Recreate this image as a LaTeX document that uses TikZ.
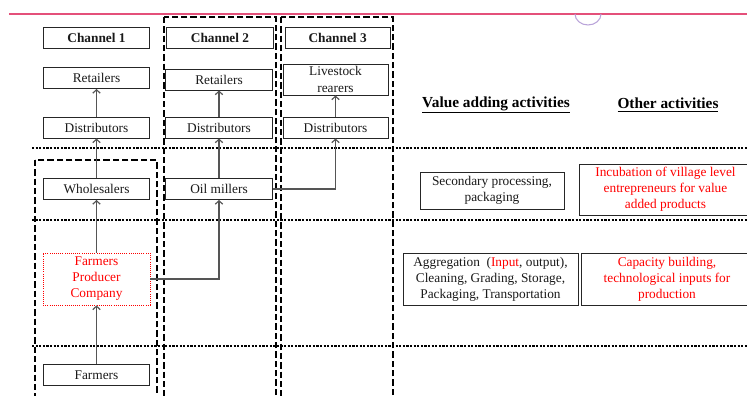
\documentclass[tikz,border=0pt]{standalone}
\usepackage{fontspec}
\setmainfont{Liberation Serif}
\usepackage{tikz}
\usetikzlibrary{arrows.meta, positioning}
\definecolor{rulepink}{HTML}{E4507A}
\definecolor{knoblilac}{HTML}{B9A3D9}
\definecolor{arrowgrey}{HTML}{555555}
\definecolor{darkgrey}{HTML}{1A1A1A}

\begin{document}
\begin{tikzpicture}[
        x=0.75pt, y=-0.75pt,
        block/.style={rectangle, draw=black!85, line width=0.6pt, fill=white, text=darkgrey, minimum width=80pt, minimum height=15.75pt, inner sep=1pt, align=center},
        redblock/.style={block, draw=red, densely dotted, line width=0.5pt, text=red},
        line/.style={draw, line width=0.9pt, color=arrowgrey, ->, >={Straight Barb[length=2.6pt, width=5.5pt]}},
        sep/.style={line width=1.6pt, dash pattern=on 1.6pt off 1.1pt},
        lane/.style={line width=1.4pt, dash pattern=on 4.8pt off 2.2pt},
        heading/.style={font=\fontsize{11.5}{14}\selectfont\bfseries}
    ]
        \clip (0,0) rectangle (747,396);

        % Page rule at the top
        \draw[rulepink, line width=0.8pt] (9,14) -- (747,14);
        \draw[knoblilac, line width=0.8pt] (575,14) arc[start angle=180, end angle=0, x radius=13, y radius=11];

        % Channel lanes and level separators
        \draw[lane] (164,17) rectangle (276,402);
        \draw[lane] (281,17) rectangle (393,402);
        \draw[lane] (35,160) rectangle (157,402);
        \foreach \yy in {148,220,346}
            \draw[sep] (32,\yy) -- (752,\yy);

        % Channel headers
        \node[block, font=\bfseries] (ch1) at (96.5,37.5) {Channel 1};
        \node[block, font=\bfseries, right=12pt of ch1] (ch2) {Channel 2};
        \node[block, font=\bfseries, right=8.25pt of ch2, minimum width=78.75pt] (ch3) {Channel 3};

        % Channel 1
        \node[block] (ret1) at (96.5,78) {Retailers};
        \node[block] (dist1) at (96.5,127.5) {Distributors};
        \node[block] (whole) at (96.5,189) {Wholesalers};
        \node[redblock, minimum height=39pt] (fpc) at (96.5,279) {Farmers\\Producer\\Company};
        \node[block] (farm) at (96.5,375) {Farmers};

        % Channel 2
        \node[block] (ret2) at (219,79.5) {Retailers};
        \node[block] (dist2) at (219,127.5) {Distributors};
        \node[block] (oil) at (219,189) {Oil millers};

        % Channel 3
        \node[block, minimum width=78.75pt, minimum height=23.25pt] (stock) at (335.5,79.5) {Livestock\\[1pt]rearers};
        \node[block, minimum width=78.75pt] (dist3) at (335.5,127.5) {Distributors};

        % Activities
        \node[heading] (vadd) at (496,105) {\underline{Value adding activities}};
        \node[heading] (other) at (668,105) {\underline{Other activities}};
        \node[block, minimum width=108pt, minimum height=27.75pt] (second) at (492,190.5) {Secondary processing,\\packaging};
        \node[block, text=red, minimum width=129.75pt, minimum height=38.25pt] (incub) at (665.5,189.5) {Incubation of village level\\entrepreneurs for value\\added products};
        \node[block, minimum width=131.25pt, minimum height=39pt] (aggr) at (490.5,279) {Aggregation~~(\textcolor{red}{Input}, output),\\Cleaning, Grading, Storage,\\Packaging, Transportation};
        \node[block, text=red, minimum width=129pt, minimum height=39pt] (capac) at (667,279) {Capacity building,\\technological inputs for\\production};

        % Connections
        \draw[line] (farm) -- (fpc);
        \draw[line] (fpc) -- (whole);
        \draw[line] (whole) -- (dist1);
        \draw[line] (dist1) -- (ret1);
        \draw[line] (fpc.east) -| (oil.south);
        \draw[line] (oil) -- (dist2);
        \draw[line] (dist2) -- (ret2);
        \draw[line] (oil.east) -| (dist3.south);
        \draw[line] (dist3) -- (stock);

    \end{tikzpicture}
\end{document}
